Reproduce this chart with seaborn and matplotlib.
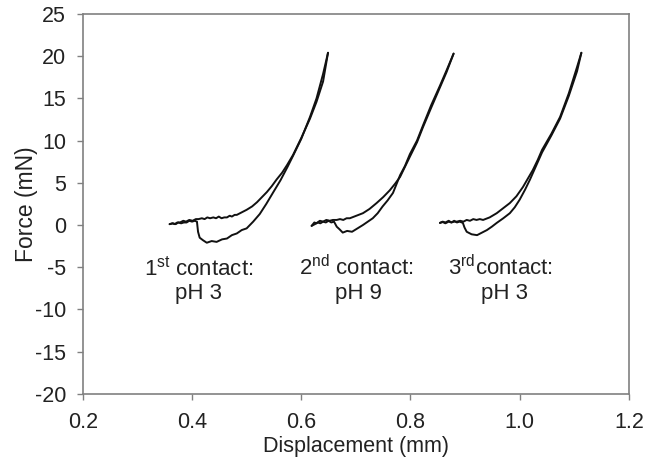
import matplotlib
matplotlib.use("Agg")
import matplotlib.pyplot as plt
import seaborn as sns
import pandas as pd

# Contact 1 (pH 3)
c1_load_x = [0.359, 0.364, 0.368, 0.373, 0.378, 0.384, 0.389, 0.395, 0.401, 0.407, 0.412, 0.418, 0.423,
             0.428, 0.433, 0.439, 0.444, 0.449, 0.454, 0.459, 0.464, 0.469, 0.473, 0.478, 0.482,
             0.491, 0.500, 0.510, 0.519, 0.528, 0.537, 0.546, 0.555, 0.565, 0.574, 0.585, 0.600,
             0.616, 0.628, 0.640, 0.649]
c1_load_y = [0.1, 0.2, 0.1, 0.3, 0.3, 0.5, 0.4, 0.6, 0.5, 0.7, 0.7, 0.8, 0.7,
             0.9, 0.8, 0.9, 0.8, 1.0, 0.8, 0.9, 0.9, 1.1, 1.0, 1.2, 1.2,
             1.5, 1.8, 2.2, 2.7, 3.3, 3.9, 4.6, 5.4, 6.2, 7.1, 8.3, 10.3,
             12.6, 14.6, 17.0, 20.4]
c1_unload_x = [0.649, 0.640, 0.628, 0.616, 0.600, 0.585, 0.575, 0.562, 0.548, 0.536, 0.524, 0.512, 0.500,
               0.491, 0.482, 0.473, 0.464, 0.455, 0.445, 0.436, 0.427, 0.420, 0.414, 0.411, 0.409,
               0.405, 0.400, 0.395, 0.390, 0.385, 0.380, 0.375, 0.370, 0.365, 0.359]
c1_unload_y = [20.4, 17.9, 15.0, 12.8, 10.2, 8.2, 6.9, 5.3, 3.8, 2.5, 1.3, 0.4, -0.4,
               -0.6, -1.0, -1.2, -1.6, -1.7, -2.0, -1.9, -2.1, -1.8, -1.5, -0.8, 0.4,
               0.5, 0.4, 0.5, 0.3, 0.3, 0.2, 0.3, 0.1, 0.2, 0.1]

# Contact 2 (pH 9)
c2_load_x = [0.619, 0.624, 0.628, 0.634, 0.640, 0.646, 0.652, 0.658, 0.665, 0.671, 0.677, 0.683, 0.689,
             0.701, 0.713, 0.725, 0.738, 0.750,
             0.762, 0.772, 0.781, 0.790, 0.799, 0.812, 0.823, 0.838, 0.854, 0.866, 0.879]
c2_load_y = [-0.1, 0.3, 0.2, 0.5, 0.4, 0.6, 0.5, 0.6, 0.6, 0.7, 0.6, 0.8, 0.8,
             1.1, 1.4, 1.9, 2.6, 3.3,
             4.1, 4.9, 5.7, 6.9, 8.1, 9.8, 11.6, 13.9, 16.3, 18.1, 20.3]
c2_unload_x = [0.879, 0.866, 0.854, 0.838, 0.823, 0.812, 0.799, 0.790, 0.781, 0.768, 0.758, 0.749,
               0.740, 0.731, 0.722, 0.713, 0.703, 0.693, 0.684, 0.676, 0.670, 0.665,
               0.660, 0.655, 0.650, 0.645, 0.640, 0.635, 0.630, 0.625, 0.619]
c2_unload_y = [20.3, 18.3, 16.5, 14.2, 11.8, 10.0, 8.4, 7.0, 5.9, 3.8, 2.9, 2.2,
               1.4, 0.8, 0.4, 0.0, -0.4, -0.8, -0.7, -0.9, -0.5, -0.2,
               0.4, 0.3, 0.5, 0.3, 0.4, 0.2, 0.3, 0.1, -0.1]

# Contact 3 (pH 3)
c3_load_x = [0.854, 0.859, 0.864, 0.870, 0.875, 0.880, 0.885, 0.891, 0.897, 0.903, 0.909, 0.915, 0.921,
             0.927, 0.933, 0.945, 0.958, 0.970, 0.982,
             0.994, 1.006, 1.015, 1.024, 1.033, 1.041, 1.058, 1.074, 1.090, 1.105, 1.113]
c3_load_y = [0.25, 0.4, 0.3, 0.5, 0.3, 0.4, 0.4, 0.5, 0.4, 0.6, 0.5, 0.7, 0.6,
             0.7, 0.6, 0.9, 1.4, 2.0, 2.6,
             3.4, 4.5, 5.5, 6.5, 7.7, 8.9, 10.8, 12.8, 15.6, 18.7, 20.4]
c3_unload_x = [1.113, 1.105, 1.090, 1.074, 1.058, 1.041, 1.030, 1.019, 1.010, 1.000, 0.991, 0.982,
               0.970, 0.958, 0.949, 0.940, 0.931, 0.922, 0.912, 0.903, 0.899, 0.896,
               0.890, 0.885, 0.880, 0.875, 0.870, 0.864, 0.859, 0.854]
c3_unload_y = [20.4, 18.2, 15.3, 12.6, 10.6, 8.6, 7.0, 5.4, 4.2, 3.0, 2.1, 1.4,
               0.8, 0.25, -0.2, -0.6, -0.9, -1.2, -1.1, -0.8, -0.3, 0.25,
               0.4, 0.3, 0.5, 0.3, 0.4, 0.2, 0.35, 0.25]

labels = [r"1$^{\rm st}$ contact:", r"2$^{\rm nd}$ contact:", r"3$^{\rm rd}$contact:"]
sublabels = ["pH 3", "pH 9", "pH 3"]

x_ticks = [0.2, 0.4, 0.6, 0.8, 1.0, 1.2]
x_ticklabels = ["0.2", "0.4", "0.6", "0.8", "1.0", "1.2"]
y_ticks = [-20, -15, -10, -5, 0, 5, 10, 15, 20, 25]

sns.set_theme(style="white")
plt.rcParams['font.family'] = ['Liberation Sans', 'DejaVu Sans']
plt.rcParams['mathtext.fontset'] = 'custom'
plt.rcParams['mathtext.rm'] = 'Liberation Sans'
plt.rcParams['axes.unicode_minus'] = False

fig = plt.figure(figsize=(6.47, 4.65), dpi=100)
ax = fig.add_axes([0.128, 0.153, 0.844, 0.817])

segments = [(c1_load_x, c1_load_y), (c1_unload_x, c1_unload_y),
            (c2_load_x, c2_load_y), (c2_unload_x, c2_unload_y),
            (c3_load_x, c3_load_y), (c3_unload_x, c3_unload_y)]
for xs, ys in segments:
    df = pd.DataFrame({"x": xs, "y": ys})
    sns.lineplot(data=df, x="x", y="y", sort=False, estimator=None, ax=ax,
                 color="#111111", linewidth=1.4)

ax.set_xlim(0.2, 1.2)
ax.set_ylim(-20, 25)
ax.set_xticks(x_ticks)
ax.set_xticklabels(x_ticklabels)
ax.set_yticks(y_ticks)
ax.set_xlabel("Displacement (mm)", fontsize=15.5, labelpad=2, color="#222222")
ax.set_ylabel("Force (mN)", fontsize=16.5, labelpad=-2, color="#222222")
ax.tick_params(axis="both", which="both", direction="out", length=4, width=1,
               color="#808080", labelsize=15.5, labelcolor="#222222", bottom=True, left=True)
ax.tick_params(axis="x", pad=9)
ax.tick_params(axis="y", pad=8)
for s in ax.spines.values():
    s.set_visible(True)
    s.set_color("#808080")
    s.set_linewidth(1.2)

label_pos = [(0.413, -5.1), (0.700, -5.1), (0.964, -5.1)]
sub_pos = [(0.412, -8.1), (0.704, -8.1), (0.972, -8.1)]
for (lx, ly), t in zip(label_pos, labels):
    ax.text(lx, ly, t, ha="center", va="center", fontsize=16, color="#222222")
for (sx, sy), t in zip(sub_pos, sublabels):
    ax.text(sx, sy, t, ha="center", va="center", fontsize=16, color="#222222")

fig.savefig("out.png", dpi=100)
